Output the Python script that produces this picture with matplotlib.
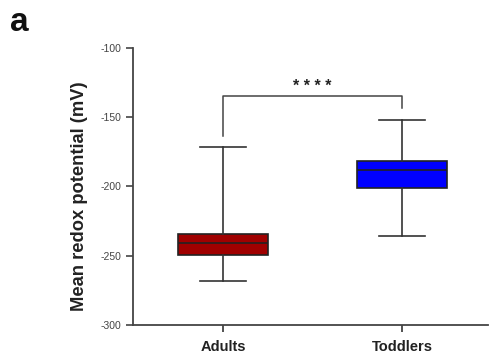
import matplotlib.pyplot as plt

plt.rcParams["font.family"] = ["Liberation Sans", "DejaVu Sans"]
plt.rcParams["axes.unicode_minus"] = False

groups = ["Adults", "Toddlers"]
whisker_low = [-268, -235.5]
q1 = [-249.5, -201]
medians = [-241, -188]
q3 = [-234.5, -181.5]
whisker_high = [-171.5, -152]
box_colors = ["#a00000", "#0000ff"]

fig = plt.figure(figsize=(4.9, 3.61), dpi=100)
ax = fig.add_axes([0.271, 0.1, 0.725, 0.767])

stats = []
for i, g in enumerate(groups):
    stats.append({
        "label": g,
        "whislo": whisker_low[i],
        "q1": q1[i],
        "med": medians[i],
        "q3": q3[i],
        "whishi": whisker_high[i],
        "fliers": [],
    })

bp = ax.bxp(stats, positions=[0, 1], widths=0.5, patch_artist=True,
            showfliers=False,
            boxprops=dict(linewidth=1.2, edgecolor="#222222"),
            medianprops=dict(color="#222222", linewidth=1.2),
            whiskerprops=dict(color="#333333", linewidth=1.2),
            capprops=dict(color="#333333", linewidth=1.2), capwidths=0.26)
for patch, c in zip(bp["boxes"], box_colors):
    patch.set_facecolor(c)

# significance bracket
ax.plot([0, 0, 1, 1], [-163.5, -134.5, -134.5, -143], color="#444444", lw=1.1)
ax.text(0.5, -133, "* * * *", ha="center", va="bottom", fontsize=11.5,
        fontweight="bold", color="#222222")

ax.set_xlim(-0.503, 1.48)
ax.set_ylim(-300, -100)
ax.set_yticks([-300, -250, -200, -150, -100])
ax.set_xticks([0, 1])
ax.set_xticklabels(groups, fontsize=10.5, fontweight="bold")
ax.tick_params(axis="y", labelsize=7.5, width=1.2, length=5, colors="#444444")
ax.tick_params(axis="x", width=1.2, length=5, colors="#333333", pad=6)
for lab in ax.get_xticklabels():
    lab.set_color("#222222")
ax.set_ylabel("Mean redox potential (mV)", fontsize=13.2, fontweight="bold",
              color="#222222")
ax.yaxis.set_label_coords(-0.125, 0.465)
ax.spines["top"].set_visible(False)
ax.spines["right"].set_visible(False)
ax.spines["left"].set_linewidth(1.3)
ax.spines["bottom"].set_linewidth(1.3)
ax.spines["left"].set_color("#444444")
ax.spines["bottom"].set_color("#444444")

fig.text(0.02, 0.915, "a", fontsize=24, fontweight="bold", color="#111111")

fig.savefig("out.png", dpi=100)
